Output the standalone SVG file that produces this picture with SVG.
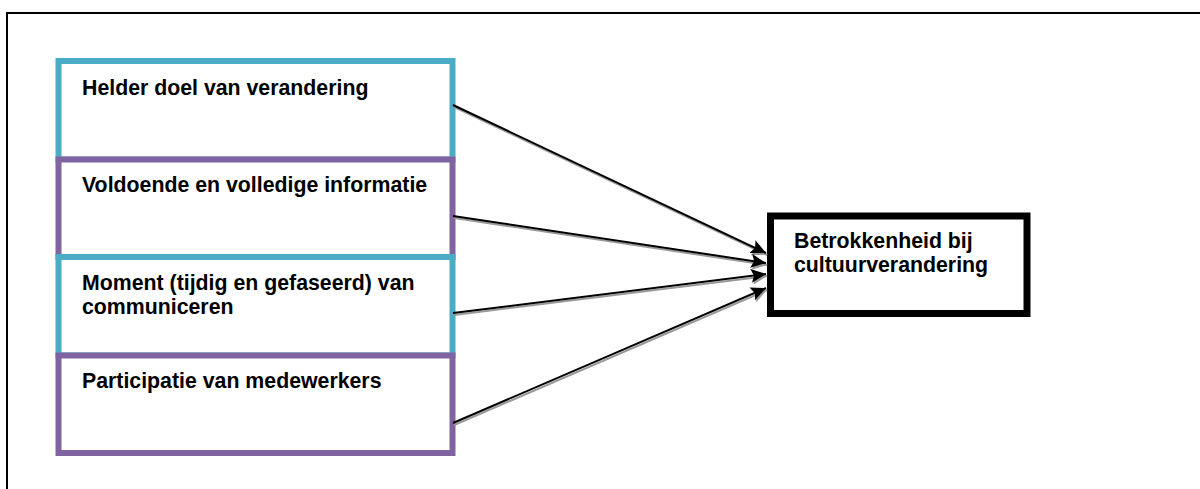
<svg xmlns="http://www.w3.org/2000/svg" width="1200" height="489" viewBox="0 0 1200 489">
  <style>
    .frame { fill: none; stroke: #000; stroke-width: 2; }
    .teal { fill: #fff; stroke: #4BACC6; stroke-width: 6; }
    .purple { fill: #fff; stroke: #8064A2; stroke-width: 6; }
    .target { fill: #fff; stroke: #000; stroke-width: 7; }
    .label { font-family: "Liberation Sans", Arial, sans-serif; font-weight: bold; font-size: 21.3px; fill: #000; }
    .shadow { stroke: #999; stroke-width: 2; fill: none; }
    .link { stroke: #000; stroke-width: 2; fill: none; }
  </style>
  <defs>
    <marker id="head" markerUnits="userSpaceOnUse" markerWidth="18" markerHeight="16" refX="15" refY="7" orient="auto">
      <path d="M0,0 L15,7 L0,14 L3,7 Z" fill="#000"/>
    </marker>
    <marker id="head-shadow" markerUnits="userSpaceOnUse" markerWidth="18" markerHeight="16" refX="15" refY="7" orient="auto">
      <path d="M0,0 L15,7 L0,14 L3,7 Z" fill="#999"/>
    </marker>
  </defs>

  <rect width="1200" height="489" fill="#fff"/>

  <!-- page frame -->
  <path class="frame" d="M7,492 L7,13 L1203,13"/>

  <g id="node-doel">
    <rect class="teal" x="58.5" y="61" width="394" height="98.5"/>
    <text class="label" x="82" y="95">Helder doel van verandering</text>
  </g>

  <g id="node-informatie">
    <rect class="purple" x="58.5" y="159.5" width="394" height="97.5"/>
    <text class="label" x="82" y="192">Voldoende en volledige informatie</text>
  </g>

  <g id="node-moment">
    <rect class="teal" x="58.5" y="257" width="394" height="98.5"/>
    <text class="label" x="82" y="290">Moment (tijdig en gefaseerd) van</text>
    <text class="label" x="82" y="314">communiceren</text>
  </g>

  <g id="node-participatie">
    <rect class="purple" x="58.5" y="355.5" width="394" height="97.5"/>
    <text class="label" x="82" y="388">Participatie van medewerkers</text>
  </g>

  <g id="node-betrokkenheid">
    <rect class="target" x="770.5" y="216" width="256.5" height="97.5"/>
    <text class="label" x="794" y="248">Betrokkenheid bij</text>
    <text class="label" x="794" y="272">cultuurverandering</text>
  </g>

  <g id="connectors">
    <g transform="translate(1.2,2)">
      <line class="shadow" x1="453" y1="105" x2="766" y2="253" marker-end="url(#head-shadow)"/>
      <line class="shadow" x1="453" y1="216" x2="766" y2="263" marker-end="url(#head-shadow)"/>
      <line class="shadow" x1="453" y1="313" x2="766" y2="274" marker-end="url(#head-shadow)"/>
      <line class="shadow" x1="453" y1="423" x2="766" y2="288" marker-end="url(#head-shadow)"/>
    </g>
    <line class="link" x1="453" y1="105" x2="766" y2="253" marker-end="url(#head)"/>
    <line class="link" x1="453" y1="216" x2="766" y2="263" marker-end="url(#head)"/>
    <line class="link" x1="453" y1="313" x2="766" y2="274" marker-end="url(#head)"/>
    <line class="link" x1="453" y1="423" x2="766" y2="288" marker-end="url(#head)"/>
  </g>
</svg>
